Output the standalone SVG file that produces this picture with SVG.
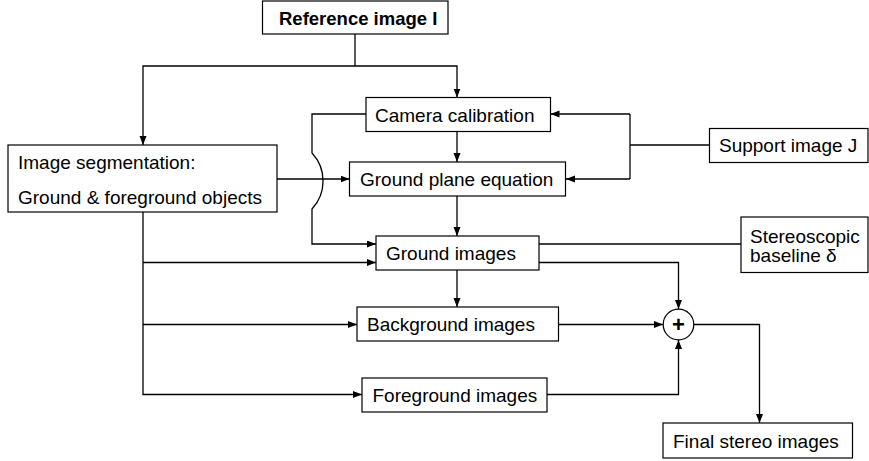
<svg xmlns="http://www.w3.org/2000/svg" width="869" height="461" viewBox="0 0 869 461">
<style>
.box{fill:#fff;stroke:#000;stroke-width:1.2}
.t{font-family:"Liberation Sans",Arial,sans-serif;font-size:19px;fill:#000}
.b{font-weight:bold;font-size:18.5px}
.c{fill:none;stroke:#000;stroke-width:1.3}
.a{marker-end:url(#arr)}
</style>
<defs>
<marker id="arr" markerUnits="userSpaceOnUse" markerWidth="10" markerHeight="8" refX="9" refY="3.5" orient="auto">
<path d="M0,0 L9,3.5 L0,7 z" fill="#000"/>
</marker>
</defs>
<rect width="869" height="461" fill="#fff"/>
<g id="connectors">
<path class="c" d="M355,34 V66"/>
<path class="c a" d="M355,66 H457 V97.5"/>
<path class="c a" d="M355,66 H143 V145"/>
<path class="c a" d="M457,131.5 V162"/>
<path class="c" d="M709,145 H630"/>
<path class="c" d="M630,114 V179"/>
<path class="c a" d="M630,114 H550.5"/>
<path class="c a" d="M630,179 H566"/>
<path class="c a" d="M277,179 H349.5"/>
<path class="c a" d="M366,114 H312 V153 A41,41 0 0 1 312,209 V244 H376"/>
<path class="c a" d="M457,196 V236"/>
<path class="c a" d="M143,212 V394.5 H362"/>
<path class="c a" d="M143,262.5 H376"/>
<path class="c a" d="M143,324.5 H357"/>
<path class="c a" d="M457,270 V307"/>
<path class="c" d="M539,244 H741"/>
<path class="c a" d="M539,262.5 H678.5 V309"/>
<path class="c a" d="M558.5,324.5 H663"/>
<path class="c a" d="M547,394.5 H678.5 V340"/>
<path class="c a" d="M694,324.5 H759.5 V423"/>
</g>
<g id="reference">
<rect class="box" x="262.5" y="1" width="185.5" height="33"/>
<text class="t b" x="279" y="24.5">Reference image I</text>
</g>
<g id="camera">
<rect class="box" x="366" y="97.5" width="184.5" height="34"/>
<text class="t" x="375" y="121.5">Camera calibration</text>
</g>
<g id="ground-plane">
<rect class="box" x="349.5" y="162" width="216" height="34"/>
<text class="t" x="360" y="186">Ground plane equation</text>
</g>
<g id="segmentation">
<rect class="box" x="8" y="145" width="269" height="67"/>
<text class="t" x="18" y="169">Image segmentation:</text>
<text class="t" x="18" y="204">Ground &amp; foreground objects</text>
</g>
<g id="support">
<rect class="box" x="709.5" y="128.5" width="158.5" height="34"/>
<text class="t" x="719" y="152">Support image J</text>
</g>
<g id="ground-images">
<rect class="box" x="376" y="236" width="163" height="34"/>
<text class="t" x="386" y="260">Ground images</text>
</g>
<g id="stereo-baseline">
<rect class="box" x="741" y="217" width="127" height="55.5"/>
<text class="t" x="750" y="242.5">Stereoscopic</text>
<text class="t" x="750" y="261.5">baseline δ</text>
</g>
<g id="background">
<rect class="box" x="357" y="307" width="201.5" height="34"/>
<text class="t" x="367" y="331">Background images</text>
</g>
<g id="foreground">
<rect class="box" x="362" y="378" width="185" height="34"/>
<text class="t" x="372.5" y="402">Foreground images</text>
</g>
<g id="sum">
<circle cx="678.5" cy="324.5" r="15.3" fill="#fff" stroke="#000" stroke-width="1.2"/>
<text class="t" x="678.5" y="332" text-anchor="middle" style="font-weight:bold;font-size:22px">+</text>
</g>
<g id="final">
<rect class="box" x="663" y="423" width="189.5" height="35"/>
<text class="t" x="673" y="447.5">Final stereo images</text>
</g>
</svg>
